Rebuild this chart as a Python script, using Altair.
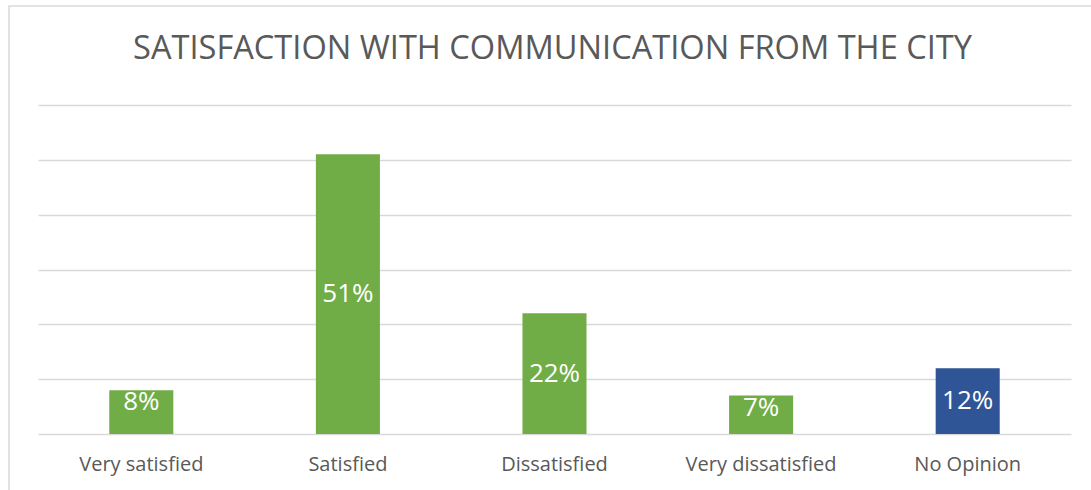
import altair as alt
import pandas as pd

categories = ["Very satisfied", "Satisfied", "Dissatisfied", "Very dissatisfied", "No Opinion"]
values = [0.08, 0.51, 0.22, 0.07, 0.12]
colors = ["#70AD47", "#70AD47", "#70AD47", "#70AD47", "#2F5597"]
title_text = "SATISFACTION WITH COMMUNICATION FROM THE CITY"

df = pd.DataFrame({"cat": categories, "v": values, "color": colors})

FONT = "Open Sans"
GRAY = "#595959"

x = alt.X("cat:N", sort=categories, title=None,
          scale=alt.Scale(paddingInner=0.69, paddingOuter=0.345),
          axis=alt.Axis(labelAngle=0, ticks=False, domain=False, labelPadding=20,
                        labelFont=FONT, labelFontSize=20, labelColor=GRAY))
y = alt.Y("v:Q", title=None,
          scale=alt.Scale(domain=[0, 0.6], nice=False),
          axis=alt.Axis(values=[0, 0.1, 0.2, 0.3, 0.4, 0.5, 0.6], labels=False, ticks=False,
                        domain=False, grid=True, gridColor="#D9D9D9", gridWidth=1.5))

base = alt.Chart(df)

bars = base.mark_bar().encode(x=x, y=y, color=alt.Color("color:N", scale=None))

labels = base.transform_calculate(
    ly="datum.v < 0.1 ? datum.v - 0.022 : datum.v / 2",
    lbl="format(datum.v, '.0%')"
).mark_text(font=FONT, fontSize=26, color="white", baseline="middle", align="center").encode(
    x=alt.X("cat:N", sort=categories),
    y=alt.Y("ly:Q"),
    text="lbl:N",
)

one = alt.Data(values=[{}])

border = alt.Chart(one).mark_rect(
    fill=None, stroke="#D9D9D9", strokeWidth=1.5, clip=False
).encode(x=alt.value(-29), y=alt.value(-99), x2=alt.value(1100), y2=alt.value(420))

title = alt.Chart(one).mark_text(
    font=FONT, fontSize=32.6, color=GRAY, align="center", baseline="alphabetic"
).encode(x=alt.value(514.5), y=alt.value(-46.5), text=alt.value(title_text))

chart = alt.layer(border, bars, labels, title).properties(
    width=1033, height=329,
    autosize=alt.AutoSizeParams(type="none"),
    padding={"left": 38, "top": 105, "right": 20, "bottom": 56},
).configure(background="white").configure_view(stroke=None)

chart.save("out.html", embed_options={"renderer": "svg", "actions": False})
